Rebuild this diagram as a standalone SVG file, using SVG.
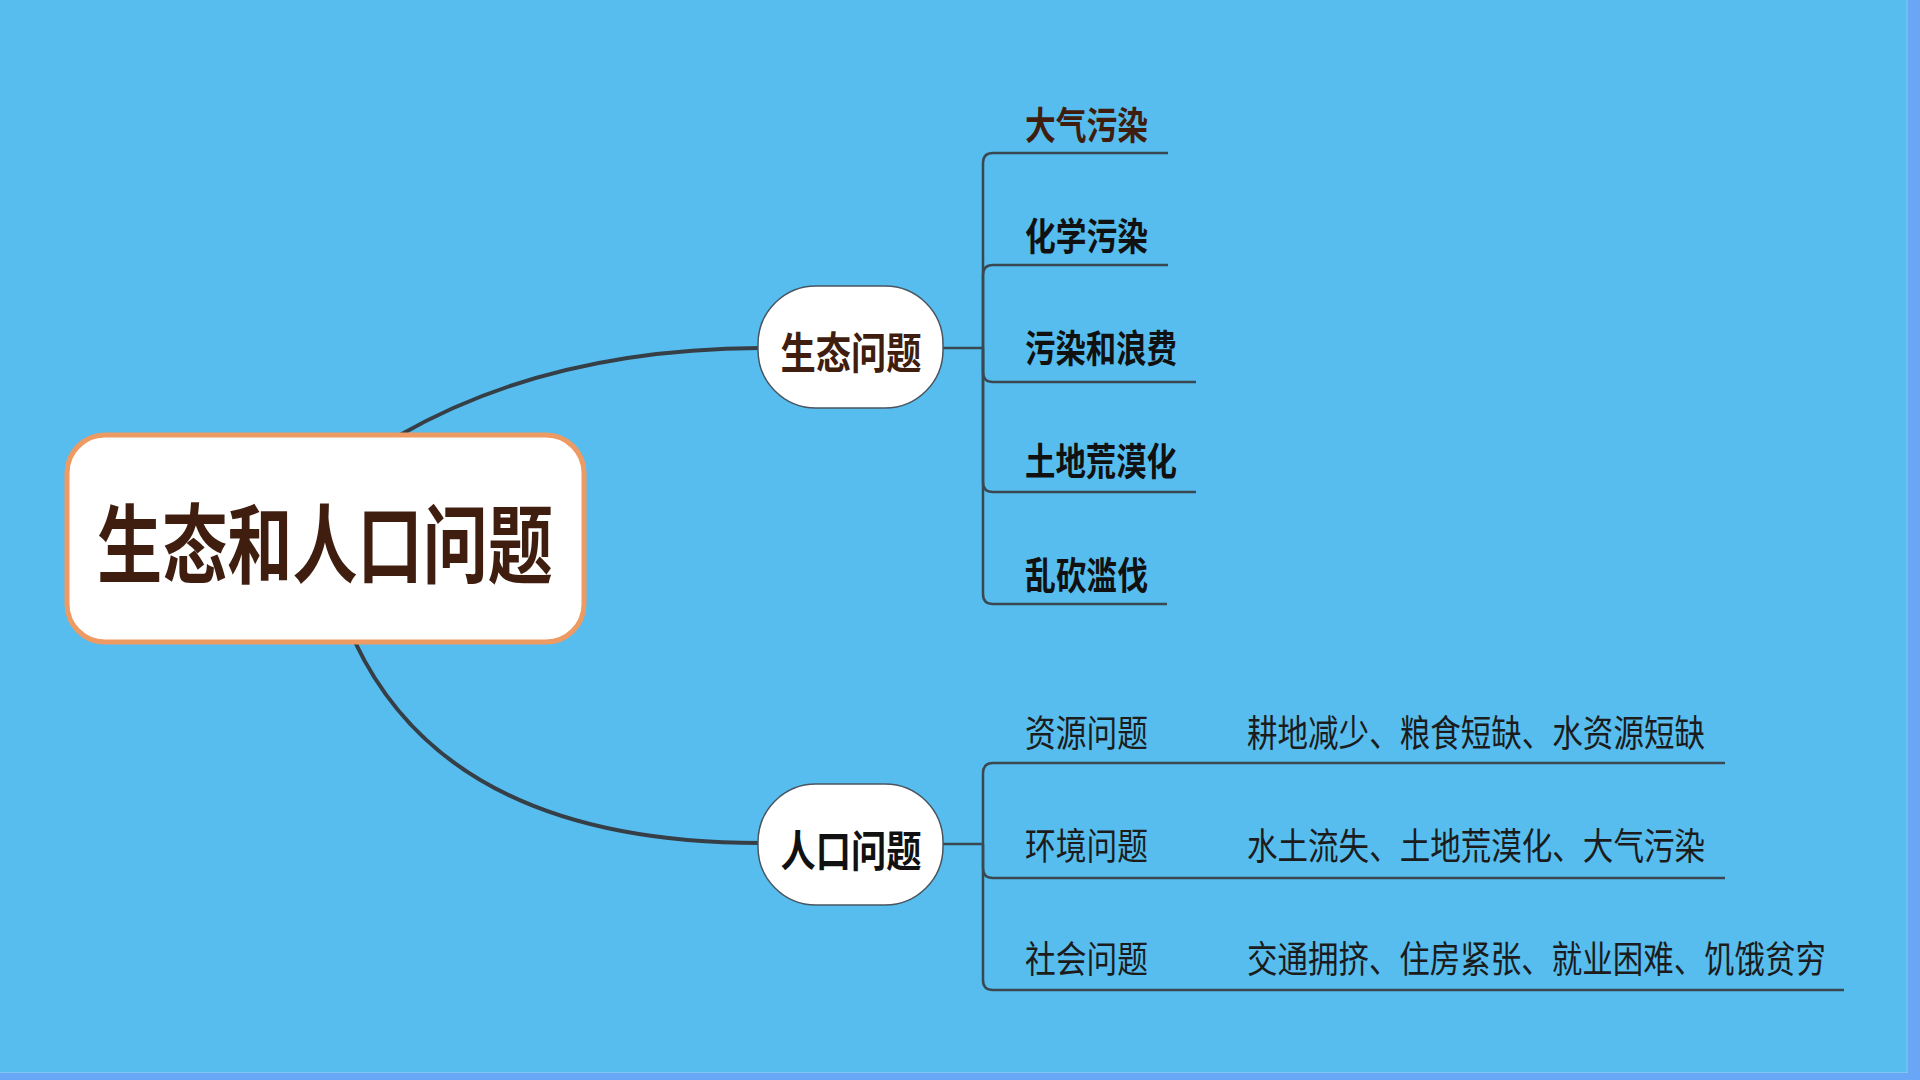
<svg xmlns="http://www.w3.org/2000/svg" width="1920" height="1080" viewBox="0 0 1920 1080">
  <style>
    .t { font-family: "Noto Sans CJK SC", "Noto Sans", sans-serif; }
    .b { font-weight: bold; }
    .r { font-weight: normal; fill: #1c1c1c; }
    .brown { fill: #3f1e0f; }
    .black { fill: #111111; }
    .main { fill: none; stroke: #363e46; stroke-width: 4; stroke-linecap: round; }
    .conn { fill: none; stroke: #3a4852; stroke-width: 2.5; }
    .mid { fill: #ffffff; stroke: #4a5560; stroke-width: 1.5; }
  </style>
  <rect x="0" y="0" width="1920" height="1080" fill="#56bdee"/>
  <rect x="1908" y="0" width="12" height="1080" fill="#6aa6f6"/>
  <rect x="0" y="1073" width="1920" height="7" fill="#6aa6f6"/>
  <line x1="1907" y1="0" x2="1907" y2="1073" stroke="#7fc6f2" stroke-width="1"/>
  <line x1="0" y1="1072.5" x2="1908" y2="1072.5" stroke="#7fc6f2" stroke-width="1"/>

  <g id="connectors">
    <path class="main" d="M400,435 Q550,349 760,348"/>
    <path class="main" d="M355,642 Q450,843 760,843"/>
    <path class="conn" d="M943,348 H983"/>
    <path class="conn" d="M983,348 V163 Q983,153 993,153 H1168"/>
    <path class="conn" d="M983,348 V275 Q983,265 993,265 H1168"/>
    <path class="conn" d="M983,348 V372 Q983,382 993,382 H1196"/>
    <path class="conn" d="M983,348 V482 Q983,492 993,492 H1196"/>
    <path class="conn" d="M983,348 V594 Q983,604 993,604 H1167"/>
    <path class="conn" d="M943,844 H983"/>
    <path class="conn" d="M983,844 V773 Q983,763 993,763 H1725"/>
    <path class="conn" d="M983,844 V868 Q983,878 993,878 H1725"/>
    <path class="conn" d="M983,844 V980 Q983,990 993,990 H1844"/>
  </g>

  <g id="node-root">
    <rect x="67" y="435" width="517" height="207" rx="38" ry="38" fill="#ffffff" stroke="#ee9a63" stroke-width="5"/>
    <text class="t b brown" x="325" y="577" font-size="86" text-anchor="middle" textLength="456" lengthAdjust="spacingAndGlyphs">生态和人口问题</text>
  </g>

  <g id="node-shengtai">
    <rect class="mid" x="758" y="286" width="185" height="122" rx="58" ry="58"/>
    <text class="t b brown" x="851" y="369" font-size="43" text-anchor="middle" textLength="141" lengthAdjust="spacingAndGlyphs">生态问题</text>
  </g>

  <g id="node-renkou">
    <rect class="mid" x="758" y="784" width="185" height="121" rx="58" ry="58"/>
    <text class="t b black" x="851" y="867" font-size="43" text-anchor="middle" textLength="141" lengthAdjust="spacingAndGlyphs">人口问题</text>
  </g>

  <g id="node-daqi">
    <text class="t b brown" x="1025" y="139" font-size="38" textLength="123" lengthAdjust="spacingAndGlyphs">大气污染</text>
  </g>
  <g id="node-huaxue">
    <text class="t b black" x="1025" y="250" font-size="38" textLength="123" lengthAdjust="spacingAndGlyphs">化学污染</text>
  </g>
  <g id="node-wuran">
    <text class="t b black" x="1025" y="362" font-size="38" textLength="152" lengthAdjust="spacingAndGlyphs">污染和浪费</text>
  </g>
  <g id="node-tudi">
    <text class="t b black" x="1025" y="475" font-size="38" textLength="152" lengthAdjust="spacingAndGlyphs">土地荒漠化</text>
  </g>
  <g id="node-luankan">
    <text class="t b black" x="1025" y="589" font-size="38" textLength="123" lengthAdjust="spacingAndGlyphs">乱砍滥伐</text>
  </g>

  <g id="node-ziyuan">
    <text class="t r" x="1025" y="747" font-size="37" textLength="123" lengthAdjust="spacingAndGlyphs">资源问题</text>
  </g>
  <g id="node-ziyuan-detail">
    <text class="t r" x="1247" y="747" font-size="37" textLength="458" lengthAdjust="spacingAndGlyphs">耕地减少、粮食短缺、水资源短缺</text>
  </g>
  <g id="node-huanjing">
    <text class="t r" x="1025" y="860" font-size="37" textLength="123" lengthAdjust="spacingAndGlyphs">环境问题</text>
  </g>
  <g id="node-huanjing-detail">
    <text class="t r" x="1247" y="860" font-size="37" textLength="458" lengthAdjust="spacingAndGlyphs">水土流失、土地荒漠化、大气污染</text>
  </g>
  <g id="node-shehui">
    <text class="t r" x="1025" y="973" font-size="37" textLength="123" lengthAdjust="spacingAndGlyphs">社会问题</text>
  </g>
  <g id="node-shehui-detail">
    <text class="t r" x="1247" y="973" font-size="37" textLength="579" lengthAdjust="spacingAndGlyphs">交通拥挤、住房紧张、就业困难、饥饿贫穷</text>
  </g>
</svg>
